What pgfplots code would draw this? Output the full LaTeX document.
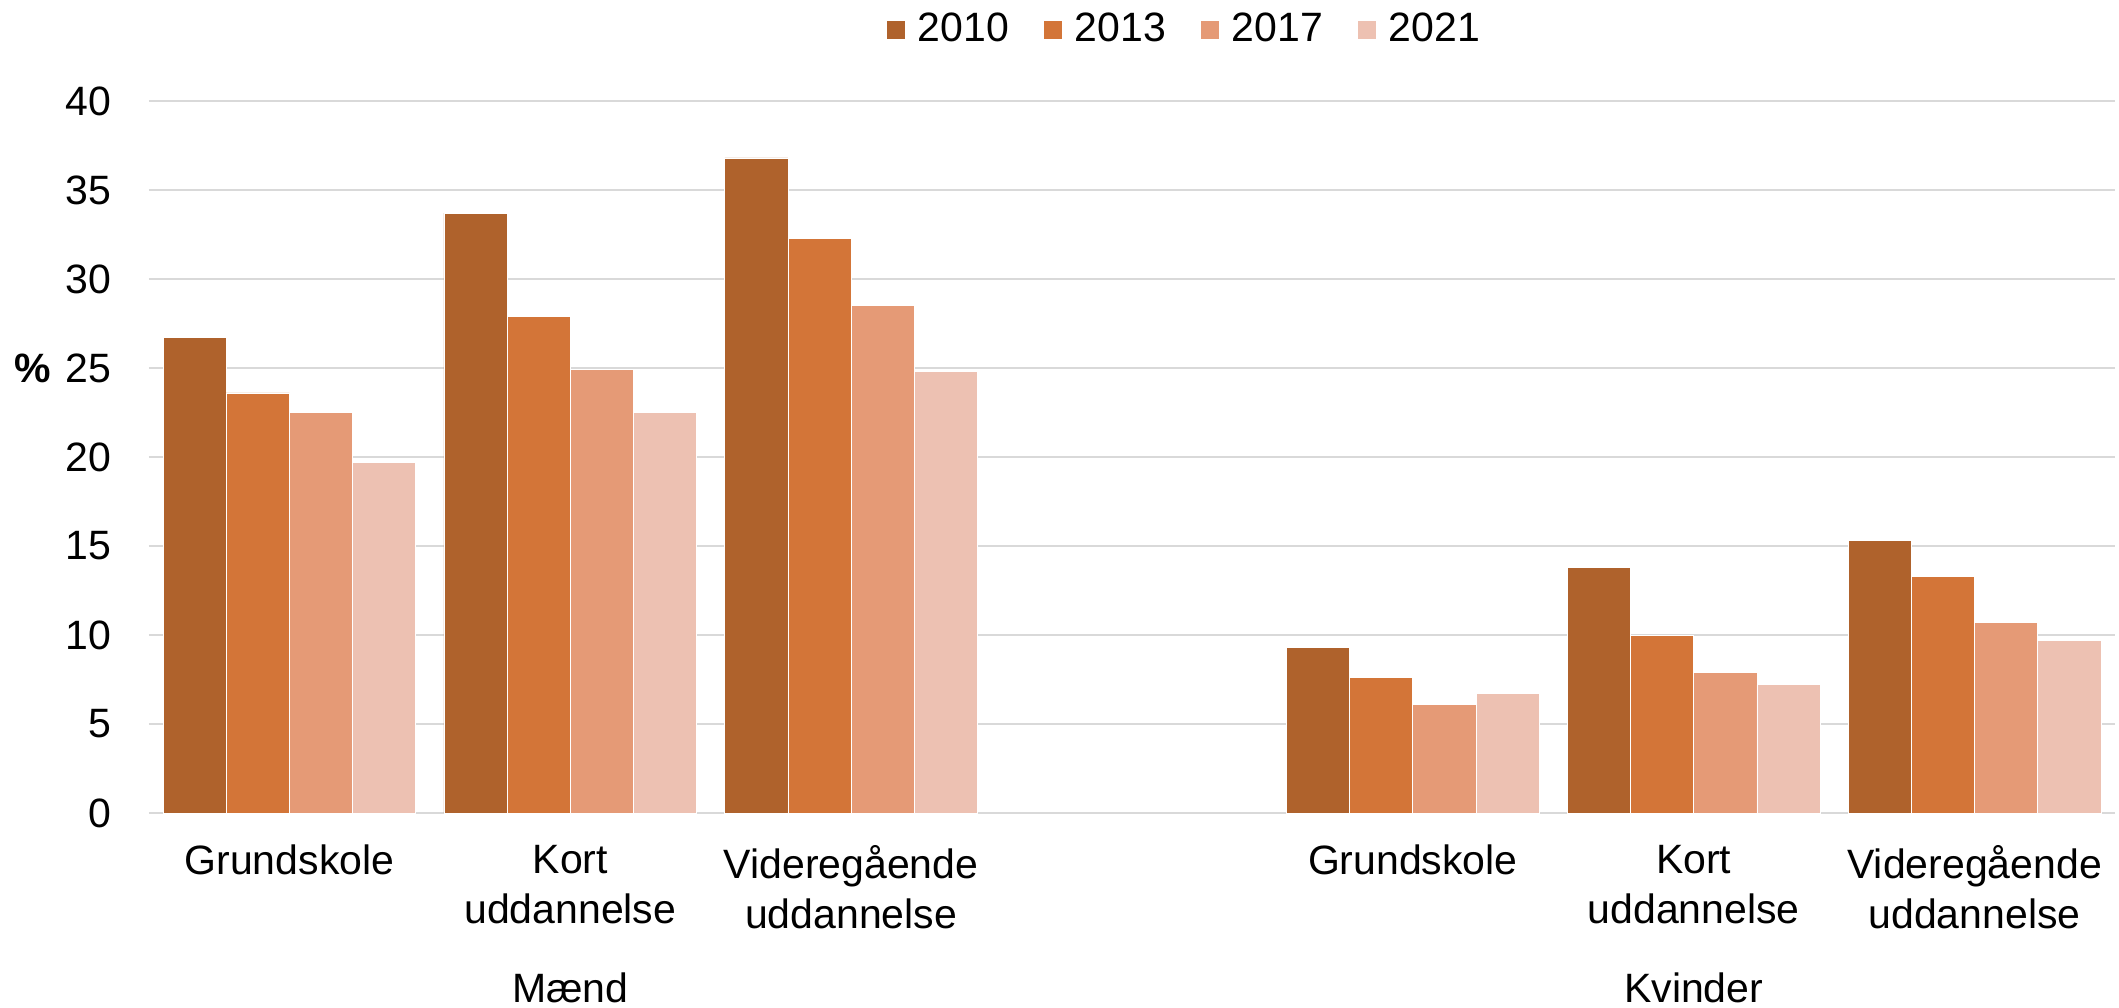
\documentclass[border=0pt]{standalone}
\usepackage{fontspec}
\setmainfont{Liberation Sans}
\usepackage{pgfplots}
\pgfplotsset{compat=1.18}
\definecolor{c10}{HTML}{AF622C}
\definecolor{c13}{HTML}{D37538}
\definecolor{c17}{HTML}{E59A76}
\definecolor{c21}{HTML}{EDC1B2}
\definecolor{gridc}{HTML}{D9D9D9}
\begin{document}
\begin{tikzpicture}
\fontsize{20.5}{25}\selectfont
\begin{axis}[
  name=ax,
  scale only axis, width=983pt, height=356pt,
  xmin=-0.5, xmax=6.5, ymin=0, ymax=40,
  ybar, bar width=0.225,
  ytick={0,5,...,40},
  xtick={0,1,2,4,5,6},
  xticklabels={Grundskole, {Kort\\uddannelse}, {Videregående\\uddannelse}, Grundskole, {Kort\\uddannelse}, {Videregående\\uddannelse}},
  xticklabel style={align=center, font=\fontsize{20.5}{25}\selectfont, yshift=-9pt},
  yticklabel style={font=\fontsize{20.5}{25}\selectfont, xshift=-12pt},
  /pgf/number format/assume math mode=true,
  axis x line=bottom, axis y line=left,
  axis line style={draw=none},
  major tick length=0pt, tick style={draw=none},
  ymajorgrids, grid style={draw=gridc, line width=1pt},
  ylabel={\textbf{\%}},
  ylabel style={rotate=-90, at={(axis description cs:-0.059,0.625)}, anchor=center, font=\fontsize{20.5}{25}\selectfont},
  legend columns=4,
  legend style={draw=none, fill=none, at={(0.527,1.0997)}, anchor=center,
    font=\fontsize{20.5}{25}\selectfont,
    /tikz/every even column/.append style={column sep=15pt},
    /tikz/every odd column/.append style={column sep=4pt}},
  legend image code/.code={\fill[#1] (0pt,-4.5pt) rectangle (9.5pt,5pt);},
  clip=false,
]
\addplot[fill=c10, draw=white, line width=0.4pt, bar shift=-0.3375] coordinates {(0,26.7) (1,33.7) (2,36.8) (4,9.3) (5,13.8) (6,15.3)};
\addplot[fill=c13, draw=white, line width=0.4pt, bar shift=-0.1125] coordinates {(0,23.6) (1,27.9) (2,32.3) (4,7.6) (5,10.0) (6,13.3)};
\addplot[fill=c17, draw=white, line width=0.4pt, bar shift=0.1125] coordinates {(0,22.5) (1,24.9) (2,28.5) (4,6.1) (5,7.9) (6,10.7)};
\addplot[fill=c21, draw=white, line width=0.4pt, bar shift=0.3375] coordinates {(0,19.7) (1,22.5) (2,24.8) (4,6.7) (5,7.2) (6,9.7)};
\legend{2010,2013,2017,2021}
\node[anchor=base] at ([yshift=-94.5pt]axis cs:1,0) {Mænd};
\node[anchor=base] at ([yshift=-94.5pt]axis cs:5,0) {Kvinder};
\end{axis}
\pgfresetboundingbox
\path ([shift={(-74.5pt,-97pt)}]ax.south west) rectangle ([shift={(2pt,50.5pt)}]ax.north east);
\end{tikzpicture}
\end{document}
